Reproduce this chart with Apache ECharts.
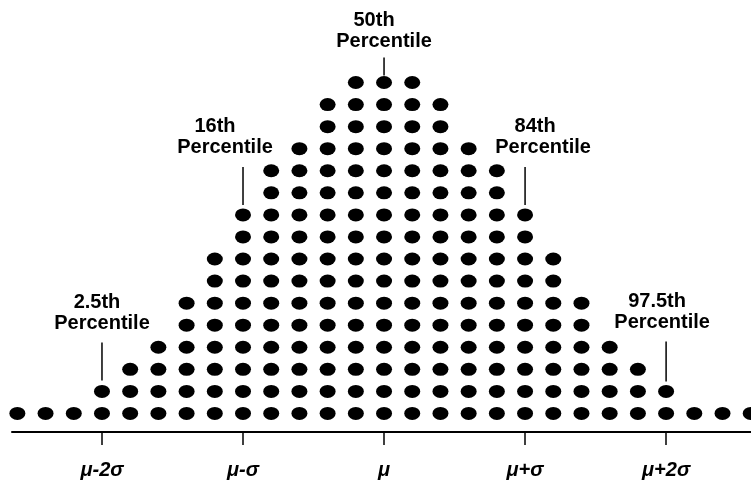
<!DOCTYPE html>
<html>
<head>
<meta charset="utf-8">
<script src="https://cdn.jsdelivr.net/npm/echarts@6/dist/echarts.min.js"></script>
<style>
  html, body { margin: 0; padding: 0; background: #fff; }
  #chart { width: 751px; height: 483px; }
</style>
</head>
<body>
<div id="chart"></div>
<script>
// columns of the dot plot, in column steps from the mean
var columns = [-13, -12, -11, -10, -9, -8, -7, -6, -5, -4, -3, -2, -1, 0,
  1, 2, 3, 4, 5, 6, 7, 8, 9, 10, 11, 12, 13];
// number of dots stacked in each column
var heights = [1, 1, 1, 2, 3, 4, 6, 8, 10, 12, 13, 15, 16, 16,
  16, 15, 13, 12, 10, 8, 6, 4, 3, 2, 1, 1, 1];

var tickValues = [-10, -5, 0, 5, 10];
var tickLabels = ['μ-2σ', 'μ-σ', 'μ', 'μ+σ', 'μ+2σ'];

var percentileNames = ['2.5th', '16th', '50th', '84th', '97.5th'];
var percentileCols = [-10, -5, 0, 5, 10];

// leader line / label placement (pixels)
var annotStyle = [
  { gap: 11, len: 38, c2: 19, dx1: -5, dx2: 0 },
  { gap: 10, len: 38, c2: 19, dx1: -28, dx2: -18 },
  { gap: 7, len: 18, c2: 16, dx1: -10, dx2: 0 },
  { gap: 10, len: 38, c2: 19, dx1: 10, dx2: 18 },
  { gap: 10, len: 40, c2: 19, dx1: -9, dx2: -4 }
];

var dots = [];
for (var i = 0; i < columns.length; i++) {
  for (var r = 1; r <= heights[i]; r++) {
    dots.push([columns[i], r]);
  }
}

var annots = [];
for (var k = 0; k < percentileCols.length; k++) {
  var idx = columns.indexOf(percentileCols[k]);
  annots.push([percentileCols[k], heights[idx], k]);
}

var font = 'bold 20px "Liberation Sans", Arial, sans-serif';

var chart = echarts.init(document.getElementById('chart'), null, { renderer: 'canvas' });

var option = {
  backgroundColor: '#fff',
  animation: false,
  grid: { left: 12, right: 0, top: 60, bottom: 51 },
  xAxis: {
    type: 'value',
    min: -13.19,
    max: 13.01,
    splitLine: { show: false },
    axisLine: { show: true, onZero: false, lineStyle: { color: '#000', width: 2 } },
    axisTick: {
      show: true,
      customValues: tickValues,
      length: 13,
      lineStyle: { color: '#000', width: 1.5 }
    },
    axisLabel: {
      show: true,
      customValues: tickValues,
      margin: 28,
      color: '#000',
      fontSize: 20,
      fontWeight: 'bold',
      fontStyle: 'italic',
      fontFamily: '"Liberation Sans", Arial, sans-serif',
      formatter: function (v) {
        var j = tickValues.indexOf(v);
        return j >= 0 ? tickLabels[j] : '';
      }
    }
  },
  yAxis: {
    type: 'value',
    min: 0.16,
    max: 17.02,
    show: false
  },
  series: [
    {
      type: 'scatter',
      data: dots,
      symbol: 'circle',
      symbolSize: [16, 13],
      clip: false,
      itemStyle: { color: '#000', opacity: 1 },
      emphasis: { disabled: true }
    },
    {
      type: 'custom',
      data: annots,
      clip: false,
      renderItem: function (params, api) {
        var k = api.value(2);
        var s = annotStyle[k];
        var p = api.coord([api.value(0), api.value(1)]);
        var yb = p[1] - s.gap;
        var yt = yb - s.len;
        return {
          type: 'group',
          children: [
            {
              type: 'line',
              shape: { x1: p[0], y1: yb, x2: p[0], y2: yt },
              style: { stroke: '#000', lineWidth: 1.5 }
            },
            {
              type: 'text',
              style: {
                text: 'Percentile',
                x: p[0] + s.dx2,
                y: yt - s.c2,
                align: 'center',
                verticalAlign: 'middle',
                font: font,
                fill: '#000'
              }
            },
            {
              type: 'text',
              style: {
                text: percentileNames[k],
                x: p[0] + s.dx1,
                y: yt - s.c2 - 21,
                align: 'center',
                verticalAlign: 'middle',
                font: font,
                fill: '#000'
              }
            }
          ]
        };
      }
    }
  ]
};

chart.setOption(option);
</script>
</body>
</html>
